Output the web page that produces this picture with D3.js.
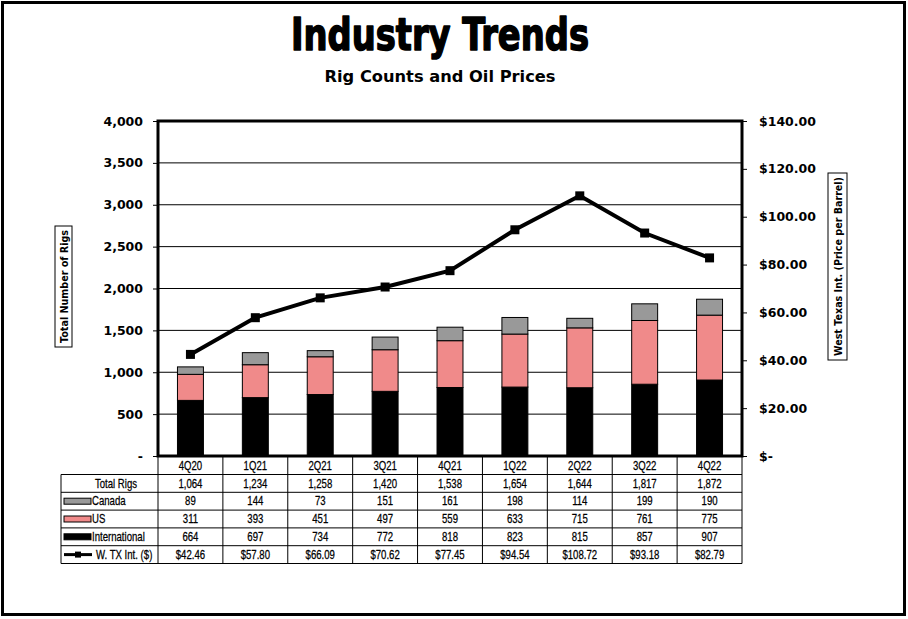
<!DOCTYPE html>
<html>
<head>
<meta charset="utf-8">
<script src="https://cdn.jsdelivr.net/npm/d3@7/dist/d3.min.js"></script>
<style>
  html, body { margin: 0; padding: 0; background: #fff; }
  svg { display: block; }
</style>
</head>
<body>
<svg id="chart" width="908" height="619"></svg>
<script>
const categories = ["4Q20","1Q21","2Q21","3Q21","4Q21","1Q22","2Q22","3Q22","4Q22"];
const totalRigs = [1064,1234,1258,1420,1538,1654,1644,1817,1872];
const canada = [89,144,73,151,161,198,114,199,190];
const us = [311,393,451,497,559,633,715,761,775];
const international = [664,697,734,772,818,823,815,857,907];
const wti = [42.46,57.80,66.09,70.62,77.45,94.54,108.72,93.18,82.79];
const rigTicks = [0,500,1000,1500,2000,2500,3000,3500,4000];
const priceTicks = [0,20,40,60,80,100,120,140];

const colors = { international: "#000000", us: "#F08A8A", canada: "#999999" };

const svg = d3.select("#chart");
const L = 158, R = 742, T = 121, B = 456;

// outer frame
svg.append("rect").attr("x", 2.5).attr("y", 2.5).attr("width", 902).attr("height", 612)
  .attr("fill", "none").attr("stroke", "#000").attr("stroke-width", 3);

// titles
svg.append("text").attr("transform", "translate(440,50) scale(1,1.12)").attr("text-anchor", "middle")
  .attr("font-family", "'DejaVu Sans Condensed', 'DejaVu Sans', sans-serif")
  .attr("font-weight", "bold").attr("font-size", 40)
  .attr("textLength", 298).attr("lengthAdjust", "spacingAndGlyphs")
  .attr("stroke", "#000").attr("stroke-width", 1.3).attr("stroke-linejoin", "round")
  .text("Industry Trends");
svg.append("text").attr("x", 440).attr("y", 82).attr("text-anchor", "middle")
  .attr("font-family", "'DejaVu Sans', Verdana, sans-serif")
  .attr("font-weight", "bold").attr("font-size", 16)
  .attr("textLength", 231).attr("lengthAdjust", "spacingAndGlyphs")
  .text("Rig Counts and Oil Prices");

const x = d3.scaleBand().domain(categories).range([L, R]).paddingInner(0).paddingOuter(0);
const xb = d3.scaleBand().domain(categories).range([L, R]).paddingInner(0.6).paddingOuter(0.3);
const y = d3.scaleLinear().domain([0, 4000]).range([B, T]);
const y2 = d3.scaleLinear().domain([0, 140]).range([B, T]);

// gridlines
svg.append("g").selectAll("line").data(rigTicks.filter(d => d > 0 && d < 4000)).join("line")
  .attr("x1", L).attr("x2", R).attr("y1", d => y(d)).attr("y2", d => y(d))
  .attr("stroke", "#000").attr("stroke-width", 1);

// stacked bars
const rows = categories.map((c, i) => ({ cat: c, international: international[i], us: us[i], canada: canada[i] }));
const stack = d3.stack().keys(["international", "us", "canada"])(rows);
svg.append("g").selectAll("g").data(stack).join("g")
  .attr("fill", d => colors[d.key])
  .selectAll("rect").data(d => d).join("rect")
  .attr("x", d => xb(d.data.cat)).attr("width", xb.bandwidth())
  .attr("y", d => y(d[1])).attr("height", d => y(d[0]) - y(d[1]))
  .attr("stroke", "#000").attr("stroke-width", 1);

// price line
const pts = categories.map((c, i) => [x(c) + x.bandwidth() / 2, y2(wti[i])]);
svg.append("path").attr("d", d3.line()(pts)).attr("fill", "none")
  .attr("stroke", "#000").attr("stroke-width", 4).attr("stroke-linejoin", "miter");
svg.append("g").selectAll("rect").data(pts).join("rect")
  .attr("x", d => d[0] - 4.5).attr("y", d => d[1] - 4.5).attr("width", 9).attr("height", 9)
  .attr("fill", "#000");

// axes
const tickFont = "'DejaVu Sans', Verdana, sans-serif";
const yAxis = svg.append("g").attr("transform", `translate(${L},0)`)
  .call(d3.axisLeft(y).tickValues(rigTicks).tickSize(5).tickPadding(10)
    .tickFormat(d => d === 0 ? "-" : d3.format(",")(d)));
const y2Axis = svg.append("g").attr("transform", `translate(${R},0)`)
  .call(d3.axisRight(y2).tickValues(priceTicks).tickSize(5).tickPadding(12)
    .tickFormat(d => d === 0 ? "$-" : "$" + d3.format(".2f")(d)));
[yAxis, y2Axis].forEach(a => {
  a.select(".domain").remove();
  a.selectAll("line").attr("stroke", "#000");
  a.selectAll("text").attr("font-family", tickFont).attr("font-weight", "bold")
    .attr("font-size", 12.5).attr("fill", "#000");
});

// plot border
svg.append("rect").attr("x", L).attr("y", T).attr("width", R - L).attr("height", B - T)
  .attr("fill", "none").attr("stroke", "#000").attr("stroke-width", 3);

// axis titles
function boxedTitle(cx, cy, w, h, txt, len) {
  const g = svg.append("g");
  g.append("rect").attr("x", cx - w / 2).attr("y", cy - h / 2).attr("width", w).attr("height", h)
    .attr("fill", "#fff").attr("stroke", "#000").attr("stroke-width", 1);
  g.append("text").attr("transform", `translate(${cx + 4},${cy}) rotate(-90)`)
    .attr("text-anchor", "middle").attr("font-family", tickFont).attr("font-weight", "bold")
    .attr("font-size", 10.5).attr("textLength", len).attr("lengthAdjust", "spacingAndGlyphs")
    .text(txt);
}
boxedTitle(63.5, 286.5, 17, 121, "Total Number of Rigs", 113);
boxedTitle(837.5, 266.5, 19, 187, "West Texas Int. (Price per Barrel)", 179);

// data table
const tableFont = "'Liberation Sans', Arial, sans-serif";
const narrow = 0.8;
const rowTop = [457, 474.5, 492.3, 510.1, 527.9, 545.7];
const rowBottom = 563.5;
const labelLeft = 61;
const tbl = svg.append("g");
tbl.append("line").attr("x1", labelLeft).attr("x2", R).attr("y1", rowTop[1]).attr("y2", rowTop[1]);
rowTop.slice(2).concat([rowBottom]).forEach(yy => {
  tbl.append("line").attr("x1", labelLeft).attr("x2", R).attr("y1", yy).attr("y2", yy);
});
tbl.append("line").attr("x1", labelLeft).attr("x2", labelLeft).attr("y1", rowTop[1]).attr("y2", rowBottom);
categories.forEach(c => {
  tbl.append("line").attr("x1", x(c)).attr("x2", x(c)).attr("y1", B).attr("y2", rowBottom);
});
tbl.append("line").attr("x1", R).attr("x2", R).attr("y1", B).attr("y2", rowBottom);
tbl.selectAll("line").attr("stroke", "#000").attr("stroke-width", 1);

function cellText(g, tx, ty, txt, anchor) {
  g.append("text").attr("transform", `translate(${tx},${ty}) scale(${narrow},1)`)
    .attr("text-anchor", anchor).attr("font-family", tableFont).attr("font-size", 12)
    .attr("fill", "#000").attr("stroke", "#000").attr("stroke-width", 0.25)
    .text(txt);
}

const fmt = d3.format(",");
const tableRows = [
  categories,
  totalRigs.map(fmt),
  canada.map(fmt),
  us.map(fmt),
  international.map(fmt),
  wti.map(d => "$" + d3.format(".2f")(d))
];
const rowMid = (r) => (rowTop[r] + (r < 5 ? rowTop[r + 1] : rowBottom)) / 2;
tableRows.forEach((vals, r) => {
  vals.forEach((v, i) => cellText(tbl, x(categories[i]) + x.bandwidth() / 2, rowMid(r) + 4.2, v, "middle"));
});

// row labels
cellText(tbl, 116, rowMid(1) + 4.2, "Total Rigs", "middle");
[["Canada", colors.canada, 2], ["US", colors.us, 3], ["International", colors.international, 4]].forEach(([lab, col, r]) => {
  const cy = rowMid(r);
  tbl.append("rect").attr("x", 64).attr("y", cy - 3).attr("width", 27).attr("height", 6)
    .attr("fill", col).attr("stroke", "#000").attr("stroke-width", 1);
  cellText(tbl, 92, rowMid(r) + 4.2, lab, "start");
});
{
  const cy = rowMid(5);
  tbl.append("line").attr("x1", 64).attr("x2", 92).attr("y1", cy).attr("y2", cy)
    .attr("stroke", "#000").attr("stroke-width", 3);
  tbl.append("rect").attr("x", 75).attr("y", cy - 3).attr("width", 6).attr("height", 6).attr("fill", "#000");
  cellText(tbl, 96, rowMid(5) + 4.2, "W. TX Int. ($)", "start");
}
</script>
</body>
</html>
